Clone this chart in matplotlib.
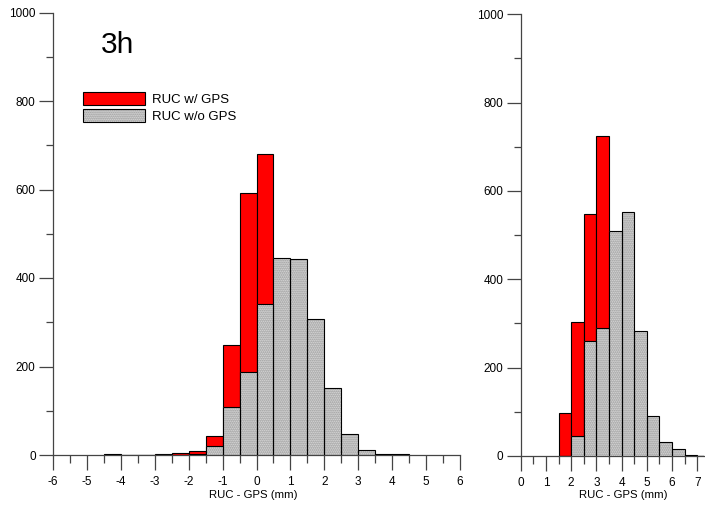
#!/usr/bin/python3

# numpy and plotting
import matplotlib.pyplot as plt
import numpy as np
from matplotlib.patches import Patch

plt.rcParams['font.family'] = ['Liberation Sans', 'DejaVu Sans']

########################################################################################
# histogram values (bin left edges, bin width 0.5 mm)
# red bars hidden behind the grey ones are rough guesses (not visible)
left_bins = [-4.5, -4.0, -3.5, -3.0, -2.5, -2.0, -1.5, -1.0, -0.5, 0.0,
             0.5, 1.0, 1.5, 2.0, 2.5, 3.0, 3.5, 4.0]
left_gps = [0, 0, 0, 2, 5, 9, 43, 248, 591, 680,
            320, 120, 40, 10, 3, 1, 0, 0]
left_nogps = [2, 0, 0, 0, 1, 2, 21, 108, 187, 342,
              445, 444, 307, 151, 48, 11, 3, 3]

right_bins = [1.5, 2.0, 2.5, 3.0, 3.5, 4.0, 4.5, 5.0, 5.5, 6.0, 6.5, 7.0]
right_gps = [97, 303, 547, 724, 300, 80, 20, 5, 1, 0, 0, 0]
right_nogps = [0, 45, 261, 289, 509, 552, 284, 90, 31, 15, 2, 1]

bin_width = 0.5
labels = ['RUC w/ GPS', 'RUC w/o GPS']
xlabel = 'RUC - GPS (mm)'
panel_tag = '3h'

red = '#ff0000'
grey = '#e4e4e4'
dots = '#8c8c8c'
axcol = '#444444'
stipple = '.' * 8

########################################################################################
def StyleAxes(ax, xmin, xmax, xticks):
    for s in ['top', 'right']:
        ax.spines[s].set_visible(False)
    for s in ['left', 'bottom']:
        ax.spines[s].set_color(axcol)
        ax.spines[s].set_linewidth(0.9)
    ax.set_xlim(xmin, xmax)
    ax.set_ylim(0, 1000)
    ax.set_xticks(xticks)
    ax.set_xticks(np.arange(xticks[0], xticks[-1] + 0.01, 0.5), minor=True)
    ax.set_yticks(np.arange(0, 1001, 200))
    ax.set_yticks(np.arange(0, 1001, 100), minor=True)
    ax.tick_params(axis='x', which='major', direction='out', length=10.8, width=0.9,
                   color=axcol, pad=4.5, labelsize=8.5)
    ax.tick_params(axis='x', which='minor', direction='out', length=5.4, width=0.9, color=axcol)
    ax.tick_params(axis='y', which='major', direction='out', length=10, width=0.9,
                   color=axcol, pad=2.5, labelsize=8.5)
    ax.tick_params(axis='y', which='minor', direction='out', length=5, width=0.9, color=axcol)
    ax.set_xticklabels([str(int(t)) for t in xticks])
    ax.set_xlabel(xlabel, fontsize=8.2)

########################################################################################
def PlotPanel(ax, bins, gps, nogps):
    ax.bar(bins, gps, width=bin_width, align='edge', color=red,
           edgecolor='black', linewidth=0.8, zorder=2)
    # stippled grey fill, then the black outline on top
    ax.bar(bins, nogps, width=bin_width, align='edge', color=grey,
           edgecolor=dots, linewidth=0, hatch=stipple, zorder=3)
    ax.bar(bins, nogps, width=bin_width, align='edge', fill=False,
           edgecolor='black', linewidth=0.8, zorder=4)
    return

########################################################################################
fig = plt.figure(figsize=(7.05, 5.07), dpi=100)

ax1 = fig.add_axes([53 / 705, 1 - 455 / 507, 407 / 705, 442.5 / 507])
PlotPanel(ax1, left_bins, left_gps, left_nogps)
StyleAxes(ax1, -6, 6, list(range(-6, 7)))
ax1.xaxis.set_label_coords(0.491, -0.080)

ax2 = fig.add_axes([520.7 / 705, 1 - 456 / 507, 183.3 / 705, 441.7 / 507])
PlotPanel(ax2, right_bins, right_gps, right_nogps)
StyleAxes(ax2, 0, 7.27, list(range(0, 8)))
ax2.xaxis.set_label_coords(0.558, -0.078)

fig.text(101 / 705, 1 - 53 / 507, panel_tag, fontsize=21.5, ha='left', va='baseline')

# legend handles: patches styled like the bars (grey one = stipple + outline)
h1 = Patch(facecolor=red, edgecolor='black', linewidth=0.8)
h2a = Patch(facecolor=grey, edgecolor=dots, linewidth=0, hatch=stipple)
h2b = Patch(fill=False, edgecolor='black', linewidth=0.8)
leg = ax1.legend([h1, (h2a, h2b)], labels, loc='upper left',
                 bbox_to_anchor=(83 / 705, 1 - 92 / 507), bbox_transform=fig.transFigure,
                 frameon=False, fontsize=9.5, handlelength=4.7, handleheight=1.1,
                 handletextpad=0.5, labelspacing=0.25, borderpad=0, borderaxespad=0)

plt.savefig('out.png', dpi=100)
